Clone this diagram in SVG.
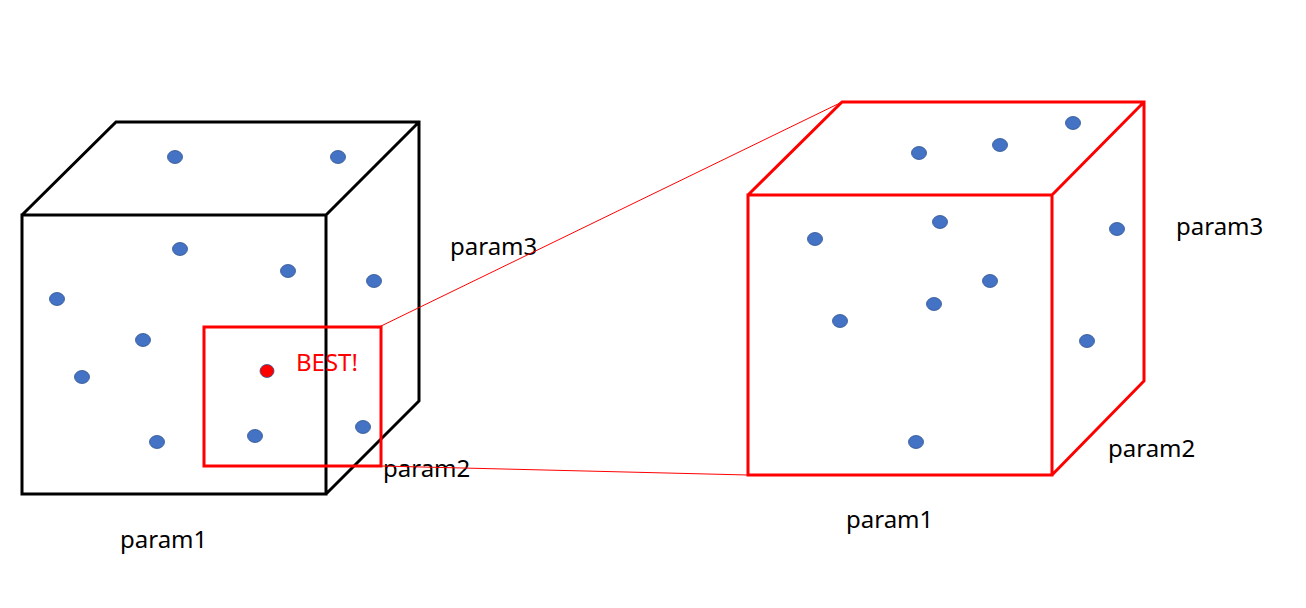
<svg xmlns="http://www.w3.org/2000/svg" width="1306" height="608" viewBox="0 0 1306 608">
<style>
.cb{fill:none;stroke:#000;stroke-width:3;stroke-linejoin:miter}
.cr{fill:none;stroke:#ff0000;stroke-width:3;stroke-linejoin:miter}
.d{fill:#4472C4;stroke:#2F528F;stroke-width:0.8}
.t{font-family:"Noto Sans","Open Sans",sans-serif;font-size:24px;fill:#000}
.best{font-family:"Noto Sans","Open Sans",sans-serif;font-size:24px;fill:#ff0000}
.ln{stroke:#ff0000;stroke-width:1;fill:none}
</style>
<rect width="1306" height="608" fill="#fff"/>
<g id="left-cube">
<path class="cb" d="M22,215 H326 V494 H22 Z M22,215 L116,122 H419 V401 L326,494 M326,215 L419,122"/>
<g id="left-dots">
<ellipse class="d" cx="175" cy="157" rx="7.5" ry="6.5"/>
<ellipse class="d" cx="338" cy="157" rx="7.5" ry="6.5"/>
<ellipse class="d" cx="180" cy="249" rx="7.5" ry="6.5"/>
<ellipse class="d" cx="288" cy="271" rx="7.5" ry="6.5"/>
<ellipse class="d" cx="374" cy="281" rx="7.5" ry="6.5"/>
<ellipse class="d" cx="57" cy="299" rx="7.5" ry="6.5"/>
<ellipse class="d" cx="143" cy="340" rx="7.5" ry="6.5"/>
<ellipse class="d" cx="82" cy="377" rx="7.5" ry="6.5"/>
<ellipse class="d" cx="157" cy="442" rx="7.5" ry="6.5"/>
<ellipse class="d" cx="255" cy="436" rx="7.5" ry="6.5"/>
<ellipse class="d" cx="363" cy="427" rx="7.5" ry="6.5"/>
<ellipse cx="267" cy="371" rx="7" ry="6.5" fill="#ff0000" stroke="#2F528F" stroke-width="0.8"/>
</g>
<text class="t" x="450" y="255">param3</text>
<text class="t" x="383" y="477">param2</text>
<text class="t" x="120" y="548">param1</text>
</g>
<g id="best-box">
<rect class="cr" x="204" y="327" width="177" height="139"/>
<text class="best" x="296" y="371">BEST!</text>
</g>
<g id="connectors">
<line class="ln" x1="377" y1="328" x2="842" y2="102"/>
<line class="ln" x1="381" y1="466" x2="748" y2="475"/>
</g>
<g id="right-cube">
<path class="cr" d="M748,195 H1052 V475 H748 Z M748,195 L842,102 H1144 V381 L1052,475 M1052,195 L1144,102"/>
<g id="right-dots">
<ellipse class="d" cx="919" cy="153" rx="7.5" ry="6.5"/>
<ellipse class="d" cx="1000" cy="145" rx="7.5" ry="6.5"/>
<ellipse class="d" cx="1073" cy="123" rx="7.5" ry="6.5"/>
<ellipse class="d" cx="940" cy="222" rx="7.5" ry="6.5"/>
<ellipse class="d" cx="815" cy="239" rx="7.5" ry="6.5"/>
<ellipse class="d" cx="1117" cy="229" rx="7.5" ry="6.5"/>
<ellipse class="d" cx="990" cy="281" rx="7.5" ry="6.5"/>
<ellipse class="d" cx="934" cy="304" rx="7.5" ry="6.5"/>
<ellipse class="d" cx="840" cy="321" rx="7.5" ry="6.5"/>
<ellipse class="d" cx="1087" cy="341" rx="7.5" ry="6.5"/>
<ellipse class="d" cx="916" cy="442" rx="7.5" ry="6.5"/>
</g>
<text class="t" x="1176" y="235">param3</text>
<text class="t" x="1108" y="457">param2</text>
<text class="t" x="846" y="528">param1</text>
</g>
</svg>
